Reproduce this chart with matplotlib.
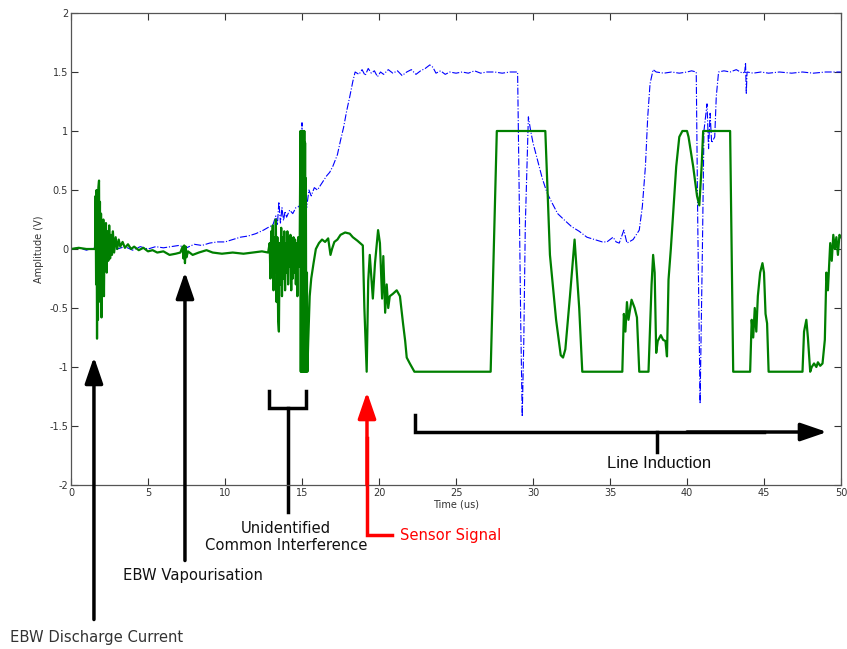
import numpy as np
import matplotlib.pyplot as plt

# green trace: sensor output (time in us, amplitude in V)
green_t = [0, 0.5, 1.0, 1.5, 1.56, 1.60, 1.63, 1.66, 1.69, 1.72, 1.75, 1.78, 1.82, 1.85, 1.88,
           1.91, 1.95, 1.98, 2.02, 2.06, 2.10, 2.14, 2.18, 2.22, 2.27, 2.32, 2.37, 2.42, 2.48,
           2.54, 2.60, 2.66, 2.72, 2.80, 2.90, 3.00, 3.10, 3.20, 3.35, 3.5, 3.7, 3.9, 4.1, 4.4,
           4.7, 5.0, 5.3, 5.6, 6.0, 6.4, 6.8, 7.1, 7.25, 7.3, 7.35, 7.4, 7.45, 7.5, 7.6, 7.9,
           8.3, 8.8, 9.2, 9.8, 10.5, 11.2, 11.8, 12.4, 12.8,
           12.90, 12.95, 13.00, 13.05, 13.10, 13.15, 13.20, 13.25, 13.30, 13.35, 13.40, 13.45,
           13.50, 13.55, 13.60, 13.65, 13.70, 13.75, 13.80, 13.85, 13.90, 13.95, 14.00, 14.05,
           14.10, 14.15, 14.20, 14.25, 14.30, 14.35, 14.40, 14.45, 14.50, 14.55, 14.60, 14.65,
           14.70, 14.75, 14.80, 14.85,
           14.90, 14.92, 14.95, 14.97, 15.00, 15.02, 15.05, 15.07, 15.10, 15.12, 15.15, 15.17,
           15.20, 15.22, 15.25, 15.28, 15.32, 15.35,
           15.4, 15.5, 15.6, 15.75, 15.9, 16.1, 16.3, 16.5, 16.7, 16.85, 16.95, 17.1, 17.3, 17.5,
           17.8, 18.1, 18.3, 18.6, 18.95, 19.05, 19.2, 19.3, 19.4, 19.6, 19.74, 19.94, 20.06,
           20.2, 20.28, 20.4, 20.5, 20.6, 20.7, 20.9, 21.15, 21.36, 21.56, 21.7, 21.8, 22.0, 22.3,
           27.25, 27.65, 30.8, 31.1, 31.5, 31.8, 31.95, 32.1, 32.4, 32.7, 33.0, 33.2,
           35.8, 35.9, 36.0, 36.1, 36.2, 36.4, 36.6, 36.75, 36.9, 37.5, 37.7, 37.8, 37.9, 38.0,
           38.1, 38.3, 38.45, 38.6, 38.7, 38.8, 38.95, 39.1, 39.3, 39.5, 39.7, 40.0, 40.1, 40.4,
           40.65, 40.8, 40.95, 41.05, 42.8, 42.9, 43.0, 44.1, 44.2, 44.3, 44.4, 44.5, 44.6,
           44.75, 44.9, 45.0, 45.1, 45.2, 45.3, 47.5, 47.6, 47.75, 47.85, 48.0, 48.1, 48.25,
           48.4, 48.5, 48.65, 48.8, 48.95, 49.05, 49.15, 49.3, 49.4, 49.5, 49.6, 49.7, 49.8,
           49.9, 50.0]
green_v = [0, 0.01, 0.0, 0.0, 0.0, 0.45, -0.3, 0.5, -0.76, 0.3, -0.6, 0.52, 0.58, -0.2, 0.4,
           -0.45, 0.3, -0.58, 0.2, -0.3, 0.25, -0.4, 0.18, -0.15, 0.22, -0.2, 0.15, -0.1, 0.2,
           -0.08, 0.12, -0.05, 0.15, -0.03, 0.1, 0.0, 0.08, 0.02, 0.06, 0.01, 0.04, 0.0, 0.02, -0.01,
           0.01, -0.02, -0.01, -0.03, -0.02, -0.05, -0.04, -0.03, 0.02, -0.08, 0.03, -0.12, 0.02,
           -0.07, -0.02, -0.05,
           -0.03, -0.01, -0.03, -0.04, -0.03, -0.04, -0.03, -0.02, -0.03,
           0.05, -0.25, 0.15, -0.1, 0.2, -0.35, 0.1, -0.2, 0.25, -0.45, 0.1, -0.6,
           -0.7, 0.05, -0.3, 0.18, -0.4, 0.1, -0.25, 0.15, -0.35, 0.05, -0.2, 0.15,
           -0.3, 0.1, -0.15, 0.12, -0.35, 0.05, -0.25, 0.1, -0.2, 0.08, -0.3, 0.05,
           -0.4, 0.1, -0.15, 0.05,
           1.0, -1.04, 1.0, -1.04, 1.0, -1.04, 1.0, -1.04, 1.0, -1.04, 1.0, -1.04,
           0.9, -1.04, 0.6, -1.04, -0.2, -1.04,
           -0.8, -0.4, -0.25, -0.12, 0.0, 0.05, 0.08, 0.06, 0.09, -0.05, 0.0, 0.06, 0.08, 0.12,
           0.14, 0.13, 0.1, 0.07, 0.03, -0.5, -1.04, -0.27, -0.05, -0.42, -0.12, 0.16, 0.05,
           -0.42, -0.06, -0.54, -0.3, -0.5, -0.4, -0.38, -0.35, -0.4, -0.63, -0.78, -0.92, -0.97, -1.04,
           -1.04, 1.0, 1.0, -0.05, -0.6, -0.9, -0.92, -0.85, -0.4, 0.08, -0.5, -1.04,
           -1.04, -0.55, -0.7, -0.45, -0.6, -0.43, -0.5, -0.58, -1.04, -1.04, -0.3, -0.05, -0.2, -0.88,
           -0.78, -0.73, -0.77, -0.78, -0.91, -0.26, 0.0, 0.3, 0.7, 0.95, 1.0, 1.0, 0.95, 0.7,
           0.45, 0.37, 0.7, 1.0, 1.0, 0.0, -1.04, -1.04, -0.6, -0.75, -0.5, -0.7, -0.4,
           -0.2, -0.12, -0.2, -0.55, -0.63, -1.04, -1.04, -0.7, -0.6, -0.75, -1.04, -1.0, -0.97,
           -1.0, -0.96, -0.99, -0.97, -0.77, -0.2, -0.35, 0.05, -0.1, 0.12, 0.0, 0.1, -0.05,
           0.12, 0.1]

# blue trace: reference channel
blue_t = [0, 0.5, 1.0, 1.5, 2.0, 2.5, 3.0, 3.5, 4.0, 4.5, 5.0, 5.5, 6.0, 6.5, 7.0, 7.5, 8.0,
          8.5, 9.0, 9.5, 10.0, 10.5, 11.0, 11.5, 12.0, 12.5, 12.9, 13.1, 13.3, 13.4, 13.5, 13.6,
          13.7, 13.8, 13.9, 14.0, 14.2, 14.4, 14.6, 14.8, 14.95, 15.0, 15.05, 15.1, 15.2, 15.3,
          15.45, 15.6, 15.8, 16.0, 16.3, 16.6, 16.8, 17.0, 17.3, 17.5, 17.7, 17.9, 18.1, 18.3,
          18.45, 18.7, 18.9, 19.1, 19.3, 19.5, 19.7, 19.9, 20.1, 20.3, 20.6, 20.9, 21.2, 21.5,
          21.8, 22.1, 22.4, 22.7, 23.0, 23.3, 23.5, 23.7, 24.0, 24.3, 24.6, 25.0, 25.4, 25.8,
          26.2, 26.6, 27.0, 27.5, 28.0, 28.5, 29.0, 29.1, 29.2, 29.3, 29.4, 29.5, 29.7, 29.85,
          30.0, 30.3, 30.6, 30.9, 31.2, 31.6, 32.0, 32.5, 33.0, 33.5, 34.0, 34.5, 34.8, 35.2,
          35.4, 35.6, 35.9, 36.1, 36.5, 36.9, 37.1, 37.3, 37.45, 37.6, 37.8, 38.0, 38.5, 39.0,
          39.5, 40.0, 40.3, 40.6, 40.7, 40.85, 41.0, 41.1, 41.3, 41.4, 41.5, 41.6, 41.8, 41.9,
          42.05, 42.4, 42.8, 43.2, 43.6, 43.75, 43.8, 43.85, 43.9, 44.3, 44.8, 45.3, 46.0,
          46.8, 47.5, 48.2, 49.0, 50.0]
blue_v = [0.0, 0.01, -0.01, 0.01, -0.02, 0.01, 0.0, 0.02, -0.01, 0.02, 0.0, 0.02, 0.01, 0.02,
          0.03, 0.01, 0.04, 0.03, 0.05, 0.06, 0.06, 0.08, 0.1, 0.11, 0.13, 0.16, 0.19, 0.2, 0.28,
          0.2, 0.4, 0.22, 0.35, 0.24, 0.32, 0.27, 0.33, 0.3, 0.35, 0.36, 0.4, 1.07, 0.45, 0.2,
          0.55, 0.35, 0.5, 0.45, 0.52, 0.5, 0.56, 0.62, 0.65, 0.7, 0.8, 0.92, 1.03, 1.17, 1.29,
          1.42, 1.5, 1.48, 1.52, 1.47, 1.53, 1.49, 1.51, 1.46, 1.5, 1.48, 1.52, 1.49, 1.51, 1.47,
          1.5, 1.52, 1.48, 1.51, 1.53, 1.56, 1.54, 1.49, 1.51, 1.48, 1.5, 1.49, 1.5, 1.49,
          1.51, 1.49, 1.5, 1.5, 1.49, 1.5, 1.5, 0.5, -0.6, -1.42, -0.8, 0.2, 1.12, 1.0,
          0.9, 0.75, 0.6, 0.48, 0.4, 0.3, 0.25, 0.19, 0.15, 0.1, 0.08, 0.06, 0.06, 0.1,
          0.06, 0.05, 0.16, 0.05, 0.08, 0.16, 0.36, 0.7, 1.12, 1.4, 1.52, 1.5, 1.49, 1.5,
          1.49, 1.5, 1.51, 1.5, 0.2, -1.31, 0.0, 1.0, 1.23, 0.85, 1.15, 0.9, 0.95, 1.29,
          1.5, 1.51, 1.5, 1.52, 1.49, 1.5, 1.58, 1.32, 1.5, 1.49, 1.5, 1.49, 1.5,
          1.49, 1.5, 1.49, 1.5, 1.5]

x_ticks = [0, 5, 10, 15, 20, 25, 30, 35, 40, 45, 50]
y_ticks = [-2, -1.5, -1, -0.5, 0, 0.5, 1, 1.5, 2]
y_tick_labels = ["-2", "-1.5", "-1", "-0.5", "0", "0.5", "1", "1.5", "2"]

fig = plt.figure(figsize=(8.47, 6.49), dpi=100)
ax = fig.add_axes([71 / 847, 1 - 485 / 649, 770 / 847, 472 / 649])

ax.plot(blue_t, blue_v, color="#0000ff", linestyle="-.", lw=0.8)
ax.plot(green_t, green_v, color="#007f00", lw=1.6)

ax.set_xlim(0, 50)
ax.set_ylim(-2, 2)
ax.set_xticks(x_ticks)
ax.set_yticks(y_ticks)
ax.set_yticklabels(y_tick_labels)
ax.tick_params(direction="in", top=True, right=True, length=5, width=0.8,
               labelsize=7, colors="#333333", pad=2)
for s in ax.spines.values():
    s.set_color("#555555")
    s.set_linewidth(0.9)
ax.set_xlabel("Time (us)", fontsize=7, color="#333333", labelpad=1)
ax.set_ylabel("Amplitude (V)", fontsize=7, color="#333333", labelpad=4)

# annotations below the axes (drawn in data coords, unclipped)
head = dict(arrowstyle="-|>,head_length=1.6,head_width=0.55", mutation_scale=10,
            lw=2.5, shrinkA=0, shrinkB=0)
fnt = dict(family="DejaVu Sans", fontsize=10.6)


def up_arrow(x, y0, y1, color="k"):
    ax.annotate("", xy=(x, y1), xytext=(x, y0), annotation_clip=False,
                arrowprops=dict(head, color=color))


up_arrow(1.49, -3.14, -0.915)
ax.text(-3.96, -3.29, "EBW Discharge Current", ha="left", va="center",
        color="#333333", clip_on=False, **fnt)

up_arrow(7.40, -2.64, -0.195)
ax.text(7.92, -2.77, "EBW Vapourisation", ha="center", va="center",
        color="#111111", clip_on=False, **fnt)

ax.plot([12.86, 12.86, 15.26, 15.26], [-1.203, -1.347, -1.347, -1.203],
        color="k", lw=2.5, clip_on=False, solid_joinstyle="miter")
ax.plot([14.09, 14.09], [-1.347, -2.229], color="k", lw=2.5, clip_on=False)
ax.text(13.96, -2.44, "Unidentified\nCommon Interference", ha="center", va="center",
        color="#111111", clip_on=False, linespacing=1.2, **fnt)

ax.plot([20.84, 19.22, 19.22], [-2.424, -2.424, -1.6], color="red", lw=2.5,
        clip_on=False, solid_joinstyle="miter")
up_arrow(19.22, -2.0, -1.212, color="red")
ax.text(21.36, -2.424, "Sensor Signal", ha="left", va="center", color="red",
        clip_on=False, **fnt)

ax.plot([22.34, 22.34, 45.0], [-1.407, -1.551, -1.551], color="k", lw=2.5,
        clip_on=False, solid_joinstyle="miter")
ax.annotate("", xy=(49.09, -1.551), xytext=(40.0, -1.551), annotation_clip=False,
            arrowprops=dict(head, color="k"))
ax.plot([38.05, 38.05], [-1.551, -1.72], color="k", lw=2.5)
ax.text(38.18, -1.814, "Line Induction", ha="center", va="center", color="#111111",
        family="Liberation Sans", fontsize=12, clip_on=False)

fig.savefig("out.png", dpi=100)
